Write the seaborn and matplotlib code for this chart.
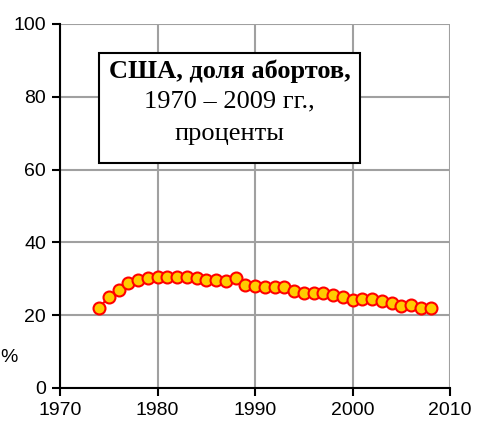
import matplotlib
matplotlib.use("Agg")
import matplotlib.pyplot as plt
import seaborn as sns
import pandas as pd
from matplotlib.patches import Rectangle

years = list(range(1974, 2009))
share = [22.1, 24.9, 27.0, 28.8, 29.8, 30.3, 30.4, 30.4, 30.4, 30.4, 30.3,
         29.8, 29.8, 29.5, 30.1, 28.3, 28.1, 27.7, 27.7, 27.7, 26.6, 26.2,
         26.1, 26.0, 25.5, 24.9, 24.3, 24.4, 24.5, 23.8, 23.3, 22.6, 22.8,
         22.1, 22.1]
xticks = [1970, 1980, 1990, 2000, 2010]
yticks = [0, 20, 40, 60, 80, 100]
title_lines = ["США, доля абортов,", "1970 – 2009 гг.,", "проценты"]
ylabel = "%"

df = pd.DataFrame({"year": years, "share": share})

sns.set_style("white")
plt.rcParams["font.family"] = ["Liberation Sans", "DejaVu Sans"]
plt.rcParams["text.color"] = "black"
plt.rcParams["xtick.color"] = "black"
plt.rcParams["ytick.color"] = "black"
plt.rcParams["axes.labelcolor"] = "black"

fig = plt.figure(figsize=(4.78, 4.30), dpi=100)
ax = fig.add_axes([60/478, 1-388/430, 390/478, 364/430])

sns.lineplot(data=df, x="year", y="share", ax=ax, color="red", lw=1.5,
             marker="o", markersize=8.6, markerfacecolor="#FFCC00",
             markeredgecolor="red", markeredgewidth=1.5, zorder=3)

ax.set_xlim(1970, 2010)
ax.set_ylim(0, 100)
ax.set_xticks(xticks)
ax.set_yticks(yticks)
ax.set_xticklabels([str(t) for t in xticks], fontsize=14, color="black")
ax.set_yticklabels([str(t) for t in yticks], fontsize=14, color="black")
ax.set_xlabel("")
ax.set_ylabel("")
ax.grid(True, color="#a0a0a0", lw=1.5)
ax.set_axisbelow(True)
for s in ["top", "right"]:
    ax.spines[s].set_visible(False)
for s in ["left", "bottom"]:
    ax.spines[s].set_color("black")
    ax.spines[s].set_linewidth(1.5)
    ax.spines[s].set_zorder(4)
ax.tick_params(axis="both", direction="out", length=6, width=1.5,
               color="black", pad=4, left=True, bottom=True)

# title box
rect = Rectangle((0.1, 0.618), 0.669, 0.302, transform=ax.transAxes,
                 facecolor="white", edgecolor="black", lw=1.5, zorder=5)
ax.add_patch(rect)
cx = 0.4346
serif = ["Liberation Serif", "DejaVu Serif"]
ax.text(cx, (388-78)/364, title_lines[0], transform=ax.transAxes, ha="center",
        va="baseline", fontsize=19, fontweight="bold", family=serif,
        color="black", zorder=6)
ax.text(cx, (388-107)/364, title_lines[1], transform=ax.transAxes, ha="center",
        va="baseline", fontsize=19, family=serif, color="black", zorder=6)
ax.text(cx, (388-140)/364, title_lines[2], transform=ax.transAxes, ha="center",
        va="baseline", fontsize=19, family=serif, color="black", zorder=6)

fig.text(0.0, 1-358/430, ylabel, ha="left", va="center", fontsize=14,
         color="black")

fig.savefig("out.png", dpi=100)
